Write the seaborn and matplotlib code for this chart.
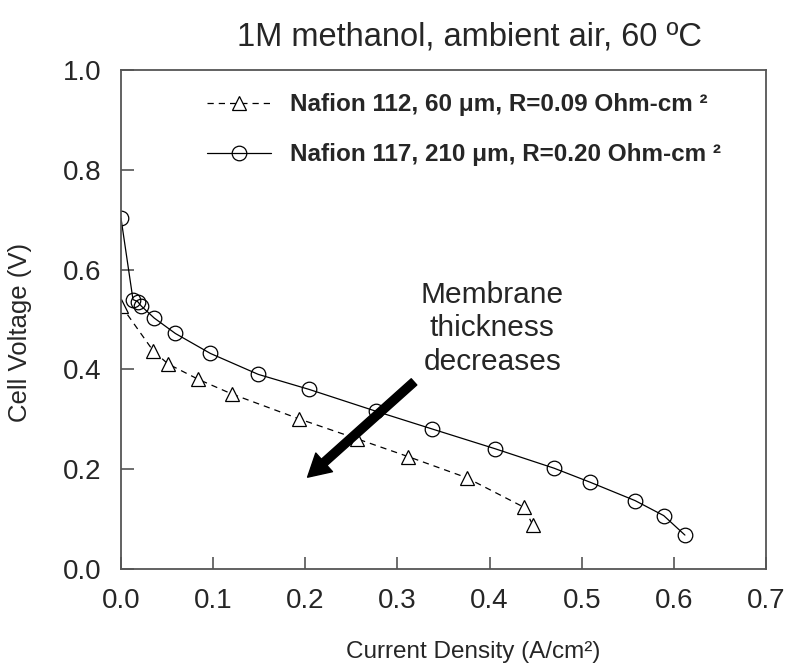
import numpy as np
import pandas as pd
import matplotlib
matplotlib.use("Agg")
import matplotlib.pyplot as plt
import seaborn as sns

# ---- data ----
n117_x = [0.000, 0.013, 0.018, 0.022, 0.036, 0.059, 0.097, 0.149, 0.204, 0.277,
          0.337, 0.406, 0.470, 0.509, 0.558, 0.589, 0.612]
n117_y = [0.703, 0.540, 0.536, 0.527, 0.503, 0.472, 0.432, 0.390, 0.360, 0.316,
          0.281, 0.241, 0.202, 0.174, 0.137, 0.107, 0.068]
n112_x = [0.000, 0.035, 0.051, 0.084, 0.120, 0.193, 0.256, 0.312, 0.375, 0.437, 0.447]
n112_y = [0.528, 0.437, 0.411, 0.380, 0.351, 0.301, 0.261, 0.225, 0.183, 0.124, 0.088]

label_112 = "Nafion 112, 60 μm, R=0.09 Ohm-cm ²"
label_117 = "Nafion 117, 210 μm, R=0.20 Ohm-cm ²"
title = "1M methanol, ambient air, 60 ºC"
xlabel = "Current Density (A/cm²)"
ylabel = "Cell Voltage (V)"
annot_text = "Membrane\nthickness\ndecreases"
xticks = [0.0, 0.1, 0.2, 0.3, 0.4, 0.5, 0.6, 0.7]
yticks = [0.0, 0.2, 0.4, 0.6, 0.8, 1.0]

sns.set_theme(style="white")
plt.rcParams['font.family'] = ['Liberation Sans', 'DejaVu Sans']

fig = plt.figure(figsize=(7.88, 6.66), dpi=100)
ax = fig.add_axes([121/788, 1 - 569/666, (766-121)/788, (569-70)/666])

df112 = pd.DataFrame({"x": n112_x, "y": n112_y})
df117 = pd.DataFrame({"x": n117_x, "y": n117_y})

sns.lineplot(data=df112, x="x", y="y", ax=ax, sort=False, color="black",
             linestyle=(0, (5, 4)), linewidth=0.9, marker="^", markersize=10,
             markerfacecolor="white", markeredgecolor="black", markeredgewidth=0.9,
             label=label_112)
sns.lineplot(data=df117, x="x", y="y", ax=ax, sort=False, color="black",
             linestyle="-", linewidth=0.9, marker="o", markersize=10.5,
             markerfacecolor="none", markeredgecolor="black", markeredgewidth=0.9,
             label=label_117)

ax.set_xlim(0, 0.7)
ax.set_ylim(0, 1.0)
ax.set_xticks(xticks)
ax.set_yticks(yticks)
ax.set_xticklabels([f"{t:.1f}" for t in xticks])
ax.set_yticklabels([f"{t:.1f}" for t in yticks])
ax.tick_params(axis="both", direction="in", length=9, width=1.2, color="#555555",
               labelsize=20, pad=14, bottom=True, left=True)
for sp in ax.spines.values():
    sp.set_color("#555555")
    sp.set_linewidth(1.3)

ax.set_xlabel(xlabel, fontsize=17.5, x=0.546, labelpad=19)
ax.set_ylabel(ylabel, fontsize=18.5, y=0.474, labelpad=22)
ax.set_title(title, fontsize=23.5, x=0.54, pad=18)

leg = ax.legend(loc="upper left", bbox_to_anchor=(0.10, 0.997), frameon=False,
                handlelength=2.6, handletextpad=0.8, labelspacing=1.1,
                prop={"weight": "bold", "size": 17.5})

ax.annotate("", xy=(0.2025, 0.184), xytext=(0.318, 0.375),
            arrowprops=dict(facecolor="black", edgecolor="black", width=6,
                            headwidth=18, headlength=16, shrink=0))
ax.text(0.403, 0.482, annot_text, ha="center", va="center", fontsize=21.5,
        linespacing=1.25)

fig.savefig("out.png", dpi=100)
